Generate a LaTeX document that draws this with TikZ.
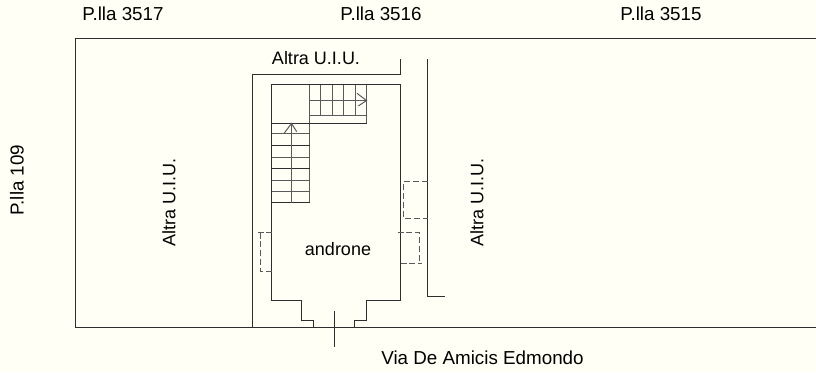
\documentclass[tikz,border=0pt]{standalone}
\usepackage{fontspec}
\setmainfont{Liberation Sans}
\usepackage{xcolor}
\usetikzlibrary{calc}
\definecolor{paper}{HTML}{FFFFF5}
\definecolor{ink}{HTML}{2E2E2E}
\definecolor{tread}{HTML}{5A5A5A}
\tikzset{
  wall/.style={draw=ink, line width=0.75pt},
  stair/.style={draw=tread, line width=0.75pt},
  dashedwall/.style={draw=tread, line width=0.75pt, dash pattern=on 4.5pt off 2.2pt},
  lbl/.style={text=black, font=\fontsize{13.5pt}{15pt}\selectfont, inner sep=0pt},
  biglbl/.style={lbl, font=\fontsize{14.1pt}{16pt}\selectfont}
}
\begin{document}
\begin{tikzpicture}[x=0.75pt,y=-0.75pt]
  \fill[paper] (0,0) rectangle (816,372);
  \useasboundingbox (0,0) rectangle (816,372);

  \coordinate (NW) at (75.5,38.5);
  \coordinate (SW) at (75.5,327.5);
  \coordinate (IA) at (271.5,84.5);
  \coordinate (IB) at (400.5,84.5);
  \coordinate (IC) at (271.5,300.5);
  \coordinate (ID) at (400.5,300.5);

  \draw[wall] (816,38.5) -- (NW) -- (SW) -- (816,327.5);      % lot boundary
  \draw[wall] (252.5,327.5) -- (252.5,74.5) -- (400.5,74.5) -- (400.5,59);
  \draw[wall] (427.5,59) -- (427.5,296.5) -- (445,296.5);

  % entrance hall outline
  \draw[wall] (IC) -- (IA) -- (IB) -- (ID);
  \draw[wall] (IC) -- (301.5,300.5) -- (301.5,320.5) -- (313.5,320.5) -- (313.5,327.5);
  \draw[wall] (ID) -- (366.5,300.5) -- (366.5,320.5) -- (354.5,320.5) -- (354.5,327.5);
  \draw[wall] (334.5,310.5) -- (334.5,346.5);

  % upper flight
  \draw[stair] (309.5,84.5) -- (309.5,202.5);
  \draw[stair] (320.5,84.5) -- (320.5,115.5);
  \draw[stair] (332.5,84.5) -- (332.5,115.5);
  \draw[stair] (343.5,84.5) -- (343.5,115.5);
  \draw[stair] (355.5,84.5) -- (355.5,115.5);
  \draw[stair] (366.5,84.5) -- (366.5,123.5);
  \draw[stair] (309.5,100.5) -- (366.5,100.5);
  \draw[stair] (309.5,115.5) -- (366.5,115.5);
  \draw[stair] (357,93.3) -- (366.5,100.5) -- (358.3,106);

  % lower flight
  \draw[wall] (271.5,123.5) -- (366.5,123.5);
  \draw[stair] (271.5,133.5) -- (309.5,133.5);
  \draw[wall] (271.5,145.5) -- (309.5,145.5);
  \draw[stair] (271.5,157.5) -- (309.5,157.5);
  \draw[wall] (271.5,168.5) -- (309.5,168.5);
  \draw[stair] (271.5,180.5) -- (309.5,180.5);
  \draw[stair] (271.5,191.5) -- (309.5,191.5);
  \draw[wall] (271.5,202.5) -- (309.5,202.5);
  \draw[stair] (291.5,123.5) -- (291.5,202.5);
  \draw[stair] (284.3,133) -- (291.5,123.5) -- (296.7,131.7);

  % niches
  \draw[dashedwall] (427.5,181.5) -- (403.5,181.5) -- (403.5,218.5) -- (427.5,218.5);
  \draw[dashedwall] (397.5,232.5) -- (419.5,232.5) -- (419.5,263.5);
  \draw[dashedwall] (400.5,263.5) -- (422,263.5);
  \draw[dashedwall] (257.5,232.5) -- (271.5,232.5);
  \draw[dashedwall] (260.5,232.5) -- (260.5,271.5) -- (275,271.5);

  \node[biglbl] (p3517) at (123,14) {P.lla 3517};
  \node[biglbl] (p3516) at (381,14) {P.lla 3516};
  \node[biglbl] (p3515) at (661,14) {P.lla 3515};
  \node[biglbl, rotate=90] (p109) at (17,180) {P.lla 109};
  \node[lbl] (uiuN) at (316,58) {Altra U.I.U.};
  \node[lbl, rotate=90] (uiuW) at (169,202) {Altra U.I.U.};
  \node[lbl, rotate=90] (uiuE) at (477,202) {Altra U.I.U.};
  \node[lbl] (androne) at (338,249) {androne};
  \node[biglbl] (via) at (482.5,358) {Via De Amicis Edmondo};
\end{tikzpicture}
\end{document}
